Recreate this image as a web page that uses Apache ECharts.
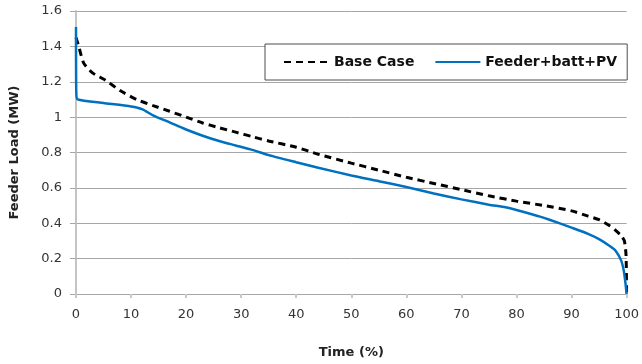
<!DOCTYPE html>
<html>
<head>
<meta charset="utf-8">
<script src="https://cdn.jsdelivr.net/npm/echarts@6/dist/echarts.min.js"></script>
<style>
  html, body { margin: 0; padding: 0; background: #fff; }
  #chart { width: 642px; height: 364px; }
</style>
</head>
<body>
<div id="chart"></div>
<script>
// Load duration curves: time share (%) vs feeder load (MW)
const baseTime = [0, 0.5, 1.4, 3, 5.3, 8, 11, 14, 17, 20, 23, 26, 29, 32, 35, 40, 44, 50, 55, 60, 65, 70, 75, 80, 85, 90, 93, 95, 97, 98, 99, 99.6, 99.9, 100];
const baseLoad = [1.45, 1.40, 1.305, 1.25, 1.21, 1.15, 1.10, 1.065, 1.033, 1.0, 0.967, 0.94, 0.915, 0.89, 0.865, 0.83, 0.79, 0.74, 0.70, 0.66, 0.625, 0.59, 0.555, 0.525, 0.50, 0.47, 0.44, 0.42, 0.385, 0.36, 0.33, 0.30, 0.22, 0];

const pvTime = [0, 0.05, 0.3, 5, 10, 12, 14, 17, 20, 23, 26, 29, 32, 35, 40, 44, 50, 55, 60, 65, 70, 75, 78, 80, 84, 86, 90, 93, 95, 97, 98, 99, 99.5, 99.8, 100];
const pvLoad = [1.51, 1.14, 1.10, 1.08, 1.06, 1.045, 1.01, 0.97, 0.93, 0.895, 0.865, 0.84, 0.815, 0.785, 0.745, 0.714, 0.67, 0.638, 0.605, 0.568, 0.535, 0.505, 0.49, 0.475, 0.44, 0.42, 0.375, 0.34, 0.31, 0.27, 0.245, 0.19, 0.13, 0.06, 0];

const xTicks = [0, 10, 20, 30, 40, 50, 60, 70, 80, 90, 100];
const yTicks = [0, 0.2, 0.4, 0.6, 0.8, 1, 1.2, 1.4, 1.6];

const seriesNames = ['Base Case', 'Feeder+batt+PV'];

const pairs = (xs, ys) => xs.map((x, i) => [x, ys[i]]);

const chart = echarts.init(document.getElementById('chart'), null, { renderer: 'canvas' });

const font = 'DejaVu Sans';

chart.setOption({
  animation: false,
  backgroundColor: '#ffffff',
  textStyle: { fontFamily: font },
  grid: { left: 74, right: 11, top: 11, bottom: 69, containLabel: false },
  legend: {
    data: seriesNames,
    left: 265,
    top: 44,
    padding: [11, 10, 11, 18],
    itemWidth: 45,
    itemHeight: 14,
    itemGap: 20,
    itemStyle: { opacity: 0 },
    backgroundColor: '#ffffff',
    borderColor: '#4d4d4d',
    borderWidth: 1,
    textStyle: { fontFamily: font, fontSize: 14, fontWeight: 'bold', color: '#111' }
  },
  xAxis: {
    type: 'value',
    min: xTicks[0],
    max: xTicks[xTicks.length - 1],
    interval: 10,
    name: 'Time (%)',
    nameLocation: 'middle',
    nameGap: 52,
    nameTextStyle: { fontFamily: font, fontSize: 13, fontWeight: 'bold', color: '#222' },
    axisLine: { show: true, lineStyle: { color: '#a6a6a6', width: 1 } },
    axisTick: { show: true, inside: false, length: 4, lineStyle: { color: '#c8c8c8', width: 2 } },
    axisLabel: { fontFamily: font, fontSize: 13, color: '#333', margin: 14 },
    splitLine: { show: false }
  },
  yAxis: {
    type: 'value',
    min: yTicks[0],
    max: yTicks[yTicks.length - 1],
    interval: 0.2,
    name: 'Feeder Load (MW)',
    nameLocation: 'middle',
    nameRotate: 90,
    nameGap: 55,
    nameTextStyle: { fontFamily: font, fontSize: 13, fontWeight: 'bold', color: '#222' },
    axisLine: { show: true, lineStyle: { color: '#c4c4c4', width: 2 } },
    axisTick: { show: true, length: 6, lineStyle: { color: '#a6a6a6', width: 1 } },
    axisLabel: { fontFamily: font, fontSize: 13, color: '#333', margin: 14 },
    splitLine: { show: true, lineStyle: { color: '#a6a6a6', width: 1 } }
  },
  series: [
    {
      name: seriesNames[0],
      type: 'line',
      data: pairs(baseTime, baseLoad),
      showSymbol: false,
      symbol: 'none',
      smooth: 0.2,
      lineStyle: { color: '#000000', width: 3, type: [7, 5] },
      itemStyle: { color: '#000000' },
      z: 3
    },
    {
      name: seriesNames[1],
      type: 'line',
      data: pairs(pvTime, pvLoad),
      showSymbol: false,
      symbol: 'none',
      smooth: 0.2,
      lineStyle: { color: '#0070c0', width: 2.5 },
      itemStyle: { color: '#0070c0' },
      z: 4
    }
  ]
});
</script>
</body>
</html>
